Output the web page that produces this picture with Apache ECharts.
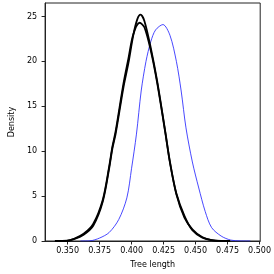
<!DOCTYPE html>
<html>
<head>
<meta charset="utf-8">
<script src="https://cdn.jsdelivr.net/npm/echarts@6/dist/echarts.min.js"></script>
<style>html,body{margin:0;padding:0;background:#fff}#c{width:274px;height:274px}</style>
</head>
<body>
<div id="c"></div>
<script>
const xTicks = [0.350, 0.375, 0.400, 0.425, 0.450, 0.475, 0.500];
const yTicks = [0, 5, 10, 15, 20, 25];

const blueX = [0.360,0.3675,0.375,0.3825,0.390,0.3963,0.400,0.4038,0.4075,0.41125,0.415,0.41875,0.4245,0.430,0.435,0.43875,0.4425,0.4475,0.4525,0.4575,0.4625,0.470,0.4775,0.485,0.4928];
const blueY = [0,0.02,0.33,0.95,2.4,4.8,8.1,11.9,16.7,20,22.2,23.5,24.1,22.9,20,16.7,12.6,8.8,5.9,3.3,1.5,0.55,0.1,0.01,0];

const blackAX = [0.3401,0.3495,0.355,0.3625,0.370,0.3775,0.3825,0.385,0.3875,0.39375,0.3975,0.4013,0.4045,0.407,0.410,0.415,0.420,0.4263,0.430,0.435,0.4413,0.4475,0.455,0.4625,0.470,0.477];
const blackAY = [0,0.02,0.2,0.7,1.7,4.4,8.1,10.3,11.9,17.2,19.8,22.9,24.7,25.2,24.5,21.5,17.8,12.2,8.8,5.2,2.6,1.3,0.45,0.1,0.01,0];

const blackBX = [0.3401,0.3495,0.355,0.3625,0.370,0.3775,0.3825,0.385,0.3875,0.39375,0.3975,0.4013,0.4063,0.410,0.415,0.420,0.4263,0.430,0.435,0.4413,0.4475,0.455,0.4625,0.470,0.477];
const blackBY = [0,0.03,0.25,0.8,1.9,4.6,8.3,10.5,12.2,17.6,20.3,23.0,24.3,23.8,21.2,17.6,12.1,8.7,5.3,2.8,1.2,0.4,0.1,0.01,0];

const zip = (xs, ys) => xs.map((x, i) => [x, ys[i]]);

const chart = echarts.init(document.getElementById('c'), null, {renderer: 'canvas'});
const font = 'DejaVu Sans';
chart.setOption({
  animation: false,
  backgroundColor: '#fff',
  grid: {left: 43, right: 7, top: 3, bottom: 30, show: true, borderColor: '#222', borderWidth: 1, backgroundColor: 'transparent'},
  xAxis: {
    type: 'value', min: 0.3324, max: 0.5005,
    name: 'Tree length', nameLocation: 'middle', nameGap: 20,
    nameTextStyle: {color: '#000', fontFamily: font, fontSize: 8},
    axisLine: {show: true, onZero: false, lineStyle: {color: '#222', width: 1}},
    axisTick: {show: true, length: 3.5, customValues: xTicks, lineStyle: {color: '#222', width: 1}},
    axisLabel: {customValues: xTicks, margin: 6, color: '#000', fontFamily: font, fontSize: 8,
      hideOverlap: false, formatter: v => v.toFixed(3)},
    splitLine: {show: false}
  },
  yAxis: {
    type: 'value', min: 0, max: 26.5,
    name: 'Density', nameLocation: 'middle', nameGap: 24, nameRotate: 90,
    nameTextStyle: {color: '#000', fontFamily: font, fontSize: 8},
    axisLine: {show: true, lineStyle: {color: '#222', width: 1}},
    axisTick: {show: true, length: 3.5, customValues: yTicks, lineStyle: {color: '#222', width: 1}},
    axisLabel: {customValues: yTicks, margin: 8, color: '#000', fontFamily: font, fontSize: 8},
    splitLine: {show: false}
  },
  series: [
    {type: 'line', data: zip(blueX, blueY), smooth: 0.3, showSymbol: false,
      lineStyle: {color: '#1a1aff', width: 0.8}},
    {type: 'line', data: zip(blackBX, blackBY), smooth: 0.3, showSymbol: false,
      lineStyle: {color: '#000', width: 1.8}},
    {type: 'line', data: zip(blackAX, blackAY), smooth: 0.3, showSymbol: false,
      lineStyle: {color: '#000', width: 1.8}}
  ]
});
</script>
</body>
</html>
